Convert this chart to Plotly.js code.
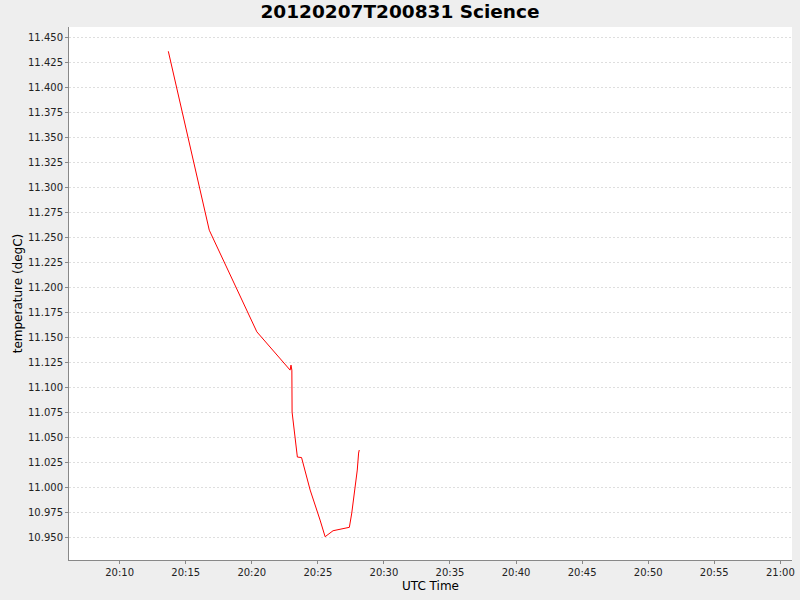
<!DOCTYPE html>
<html>
<head>
<meta charset="utf-8">
<script src="https://cdn.plot.ly/plotly-3.0.1.min.js"></script>
<style>
  html, body { margin: 0; padding: 0; background: #eeeeee; }
  #chart { width: 800px; height: 600px; }
</style>
</head>
<body>
<div id="chart"></div>
<script>
// UTC times of the readings (2012-02-07)
const times = [
  '2012-02-07 20:13:41', '2012-02-07 20:16:47', '2012-02-07 20:20:23',
  '2012-02-07 20:22:54', '2012-02-07 20:22:58', '2012-02-07 20:23:02',
  '2012-02-07 20:23:03', '2012-02-07 20:23:15', '2012-02-07 20:23:27',
  '2012-02-07 20:23:46', '2012-02-07 20:24:25', '2012-02-07 20:25:10',
  '2012-02-07 20:25:33', '2012-02-07 20:26:09', '2012-02-07 20:27:23',
  '2012-02-07 20:27:34', '2012-02-07 20:27:49', '2012-02-07 20:27:59',
  '2012-02-07 20:28:05', '2012-02-07 20:28:08'
];
// temperature in degC
const temperature = [
  11.4363, 11.2573, 11.1556,
  11.1173, 11.1223, 11.1173,
  11.0753, 11.0523, 11.0303,
  11.0298, 10.9973, 10.9673,
  10.9506, 10.9566, 10.9600,
  10.9743, 10.9973, 11.0173,
  11.0343, 11.0373
];

const xRange = ['2012-02-07 20:06:10', '2012-02-07 21:00:53'];
const yRange = [10.9273, 11.4606];

const trace = {
  type: 'scatter',
  mode: 'lines',
  x: times,
  y: temperature,
  line: { color: '#ff0000', width: 1 },
  hoverinfo: 'x+y'
};

const axisFont = { family: 'DejaVu Sans, sans-serif', size: 10, color: '#222' };

const layout = {
  width: 800,
  height: 600,
  paper_bgcolor: '#eeeeee',
  plot_bgcolor: '#ffffff',
  showlegend: false,
  margin: { l: 69, r: 8, t: 27, b: 40, pad: 0 },
  title: {
    text: '20120207T200831 Science',
    font: { family: 'DejaVu Sans, sans-serif', size: 18.5, weight: 'bold', color: '#000' },
    x: 0.5, xanchor: 'center',
    y: 1 - 12 / 600, yanchor: 'middle', yref: 'container'
  },
  xaxis: {
    type: 'date',
    range: xRange,
    tick0: '2012-02-07 20:10:00',
    dtick: 300000,
    tickformat: '%H:%M',
    showgrid: false,
    zeroline: false,
    showline: true,
    linecolor: '#888888',
    linewidth: 1,
    mirror: false,
    ticks: 'outside',
    ticklen: 3,
    tickcolor: '#888888',
    tickfont: axisFont,
    title: { text: 'UTC Time', font: { family: 'DejaVu Sans, sans-serif', size: 12, color: '#000' }, standoff: 4 }
  },
  yaxis: {
    range: yRange,
    tick0: 10.95,
    dtick: 0.025,
    tickformat: '.3f',
    showgrid: true,
    gridcolor: '#dedede',
    griddash: '2px,2px',
    gridwidth: 1,
    zeroline: false,
    showline: true,
    linecolor: '#888888',
    linewidth: 1,
    mirror: false,
    ticks: 'outside',
    ticklen: 3,
    tickcolor: '#888888',
    tickfont: axisFont,
    title: { text: 'temperature (degC)', font: { family: 'DejaVu Sans, sans-serif', size: 12, color: '#000' }, standoff: 2 }
  }
};

Plotly.newPlot('chart', [trace], layout, { displayModeBar: false, staticPlot: true });
</script>
</body>
</html>
